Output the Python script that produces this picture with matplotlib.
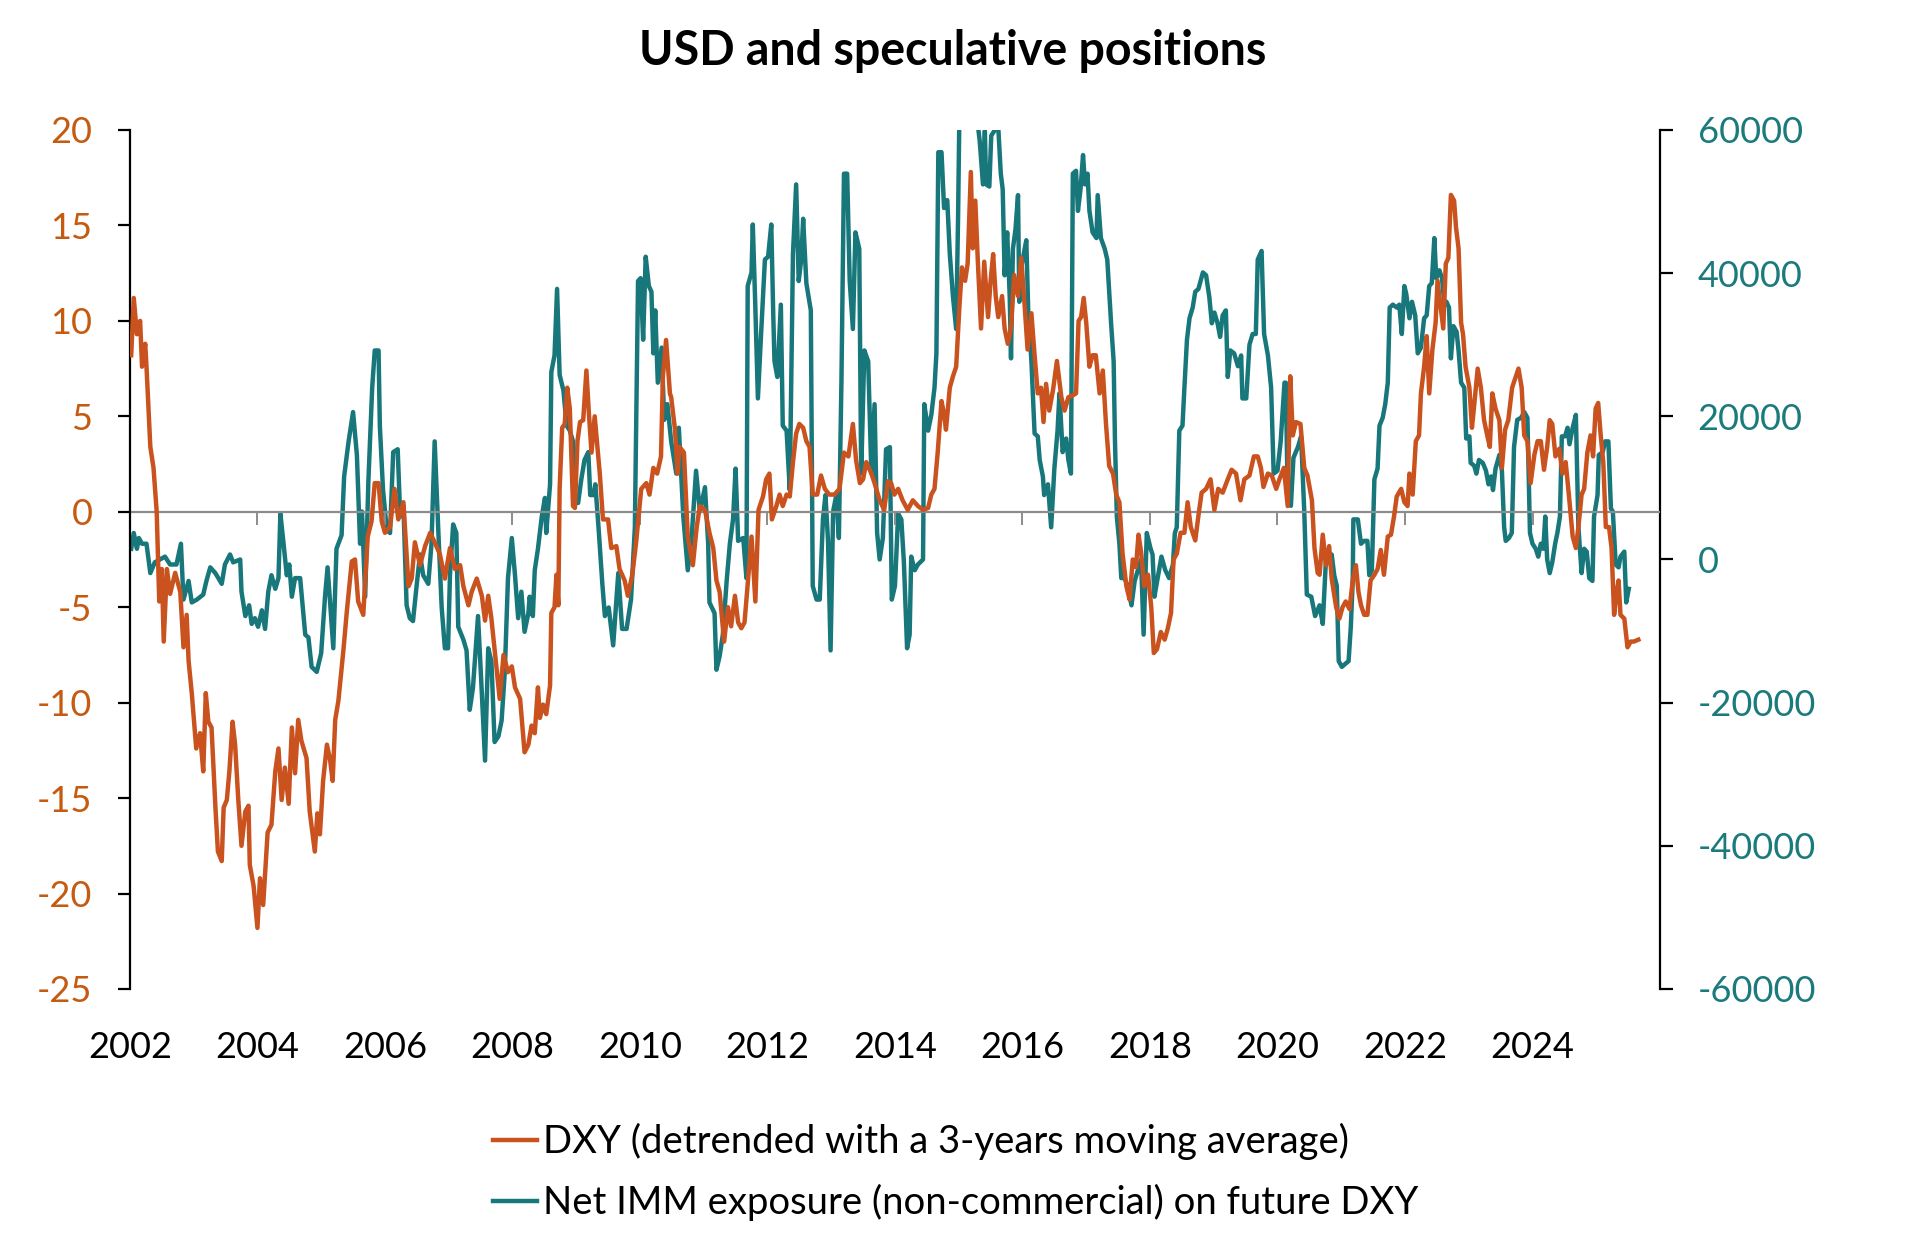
import numpy as np
import matplotlib
matplotlib.use('Agg')
import matplotlib.pyplot as plt

plt.rcParams['font.family'] = ['Lato', 'DejaVu Sans']
plt.rcParams['axes.unicode_minus'] = False

# DXY detrended (left axis) - decimal year / value
dxy_t = [2002.02, 2002.06, 2002.11, 2002.16, 2002.19, 2002.24, 2002.26, 2002.32, 2002.37, 2002.42,
         2002.46, 2002.50, 2002.53, 2002.58, 2002.63, 2002.71, 2002.79, 2002.84, 2002.89, 2002.92,
         2002.97, 2003.04, 2003.10, 2003.15, 2003.19, 2003.23, 2003.28, 2003.34, 2003.38, 2003.44,
         2003.47, 2003.52, 2003.56, 2003.61, 2003.65, 2003.70, 2003.75, 2003.81, 2003.86, 2003.88,
         2003.94, 2004.00, 2004.04, 2004.09, 2004.16, 2004.22, 2004.28, 2004.33, 2004.38, 2004.43,
         2004.49, 2004.54, 2004.59, 2004.64, 2004.69, 2004.77, 2004.82, 2004.90, 2004.94, 2004.98,
         2005.03, 2005.09, 2005.14, 2005.18, 2005.22, 2005.27, 2005.35, 2005.40, 2005.48, 2005.53,
         2005.58, 2005.66, 2005.73, 2005.79, 2005.84, 2005.90, 2005.95, 2006.00, 2006.08, 2006.15,
         2006.21, 2006.29, 2006.37, 2006.42, 2006.47, 2006.55, 2006.63, 2006.71, 2006.78, 2006.86,
         2006.94, 2007.02, 2007.10, 2007.18, 2007.23, 2007.31, 2007.36, 2007.44, 2007.52, 2007.57,
         2007.62, 2007.67, 2007.75, 2007.80, 2007.86, 2007.93, 2007.99, 2008.04, 2008.12, 2008.19,
         2008.25, 2008.30, 2008.35, 2008.40, 2008.43, 2008.48, 2008.53, 2008.59, 2008.61, 2008.66,
         2008.69, 2008.72, 2008.74, 2008.78, 2008.82, 2008.86, 2008.90, 2008.95, 2008.98, 2009.02,
         2009.06, 2009.11, 2009.16, 2009.20, 2009.24, 2009.29, 2009.37, 2009.42, 2009.50, 2009.55,
         2009.63, 2009.68, 2009.76, 2009.81, 2009.88, 2009.94, 2010.02, 2010.10, 2010.15, 2010.21,
         2010.27, 2010.33, 2010.36, 2010.41, 2010.47, 2010.49, 2010.55, 2010.59, 2010.62, 2010.69,
         2010.75, 2010.83, 2010.89, 2010.94, 2011.02, 2011.09, 2011.15, 2011.20, 2011.25, 2011.32,
         2011.38, 2011.43, 2011.49, 2011.54, 2011.59, 2011.64, 2011.68, 2011.75, 2011.81, 2011.86,
         2011.93, 2011.98, 2012.03, 2012.07, 2012.14, 2012.19, 2012.24, 2012.30, 2012.35, 2012.40,
         2012.45, 2012.50, 2012.56, 2012.61, 2012.66, 2012.71, 2012.78, 2012.84, 2012.90, 2012.97,
         2013.05, 2013.13, 2013.20, 2013.27, 2013.34, 2013.39, 2013.45, 2013.50, 2013.55, 2013.63,
         2013.68, 2013.76, 2013.83, 2013.89, 2013.94, 2013.99, 2014.05, 2014.12, 2014.20, 2014.28,
         2014.36, 2014.44, 2014.52, 2014.57, 2014.62, 2014.67, 2014.73, 2014.77, 2014.80, 2014.86,
         2014.91, 2014.96, 2015.01, 2015.05, 2015.10, 2015.14, 2015.19, 2015.22, 2015.26, 2015.30,
         2015.35, 2015.40, 2015.46, 2015.50, 2015.54, 2015.58, 2015.62, 2015.68, 2015.72, 2015.77,
         2015.82, 2015.87, 2015.93, 2015.98, 2016.03, 2016.08, 2016.14, 2016.19, 2016.24, 2016.29,
         2016.33, 2016.37, 2016.42, 2016.48, 2016.54, 2016.61, 2016.66, 2016.72, 2016.79, 2016.84,
         2016.88, 2016.92, 2016.96, 2017.00, 2017.05, 2017.10, 2017.15, 2017.21, 2017.26, 2017.31,
         2017.36, 2017.42, 2017.47, 2017.52, 2017.57, 2017.63, 2017.68, 2017.73, 2017.78, 2017.82,
         2017.86, 2017.91, 2017.97, 2018.02, 2018.06, 2018.11, 2018.17, 2018.23, 2018.28, 2018.33,
         2018.37, 2018.42, 2018.48, 2018.54, 2018.59, 2018.64, 2018.71, 2018.76, 2018.81, 2018.88,
         2018.95, 2019.01, 2019.07, 2019.14, 2019.22, 2019.28, 2019.35, 2019.42, 2019.48, 2019.56,
         2019.63, 2019.69, 2019.74, 2019.78, 2019.85, 2019.91, 2019.98, 2020.03, 2020.10, 2020.16,
         2020.20, 2020.24, 2020.29, 2020.36, 2020.42, 2020.47, 2020.54, 2020.58, 2020.63, 2020.66,
         2020.71, 2020.76, 2020.81, 2020.85, 2020.92, 2020.97, 2021.02, 2021.07, 2021.13, 2021.18,
         2021.23, 2021.27, 2021.31, 2021.36, 2021.41, 2021.46, 2021.52, 2021.57, 2021.62, 2021.67,
         2021.73, 2021.78, 2021.83, 2021.87, 2021.94, 2021.99, 2022.04, 2022.07, 2022.12, 2022.17,
         2022.22, 2022.25, 2022.30, 2022.34, 2022.38, 2022.43, 2022.48, 2022.51, 2022.56, 2022.60,
         2022.64, 2022.68, 2022.72, 2022.77, 2022.80, 2022.84, 2022.88, 2022.91, 2022.95, 2023.01,
         2023.05, 2023.08, 2023.14, 2023.19, 2023.24, 2023.29, 2023.33, 2023.37, 2023.42, 2023.48,
         2023.52, 2023.57, 2023.62, 2023.68, 2023.74, 2023.78, 2023.83, 2023.87, 2023.92, 2023.97,
         2024.03, 2024.08, 2024.13, 2024.18, 2024.23, 2024.27, 2024.31, 2024.36, 2024.42, 2024.47,
         2024.52, 2024.57, 2024.63, 2024.68, 2024.72, 2024.77, 2024.81, 2024.86, 2024.91, 2024.95,
         2024.99, 2025.03, 2025.07, 2025.11, 2025.15, 2025.20, 2025.24, 2025.28, 2025.32, 2025.35,
         2025.38, 2025.44, 2025.49, 2025.54, 2025.59, 2025.66]
dxy_v = [8.2, 11.2, 9.3, 10.0, 7.6, 8.8, 7.6, 3.4, 2.3, 0.0,
         -4.7, -3.0, -6.8, -3.0, -4.3, -3.2, -4.2, -7.1, -5.4, -7.8,
         -9.5, -12.4, -11.6, -13.6, -9.5, -11.0, -11.3, -15.4, -17.8, -18.3,
         -15.5, -15.1, -13.6, -11.0, -12.2, -15.1, -17.5, -15.7, -15.4, -18.5,
         -19.6, -21.8, -19.2, -20.6, -16.8, -16.4, -13.6, -12.4, -15.1, -13.4,
         -15.3, -11.3, -13.7, -10.9, -12.0, -12.9, -15.7, -17.8, -15.8, -16.9,
         -14.1, -12.2, -13.0, -14.1, -10.9, -9.9, -7.2, -5.3, -2.6, -2.5,
         -4.7, -5.4, -1.3, -0.5, 1.5, 1.5, -0.5, -1.1, -0.8, 1.2,
         -0.4, 0.5, -3.9, -3.5, -1.6, -2.8, -1.8, -1.1, -1.6, -2.2,
         -3.5, -1.9, -3.0, -2.8, -3.9, -4.9, -4.2, -3.5, -4.4, -5.7,
         -4.4, -5.6, -8.2, -9.8, -7.5, -8.4, -8.1, -9.2, -9.8, -12.6,
         -12.2, -11.2, -11.6, -9.2, -10.8, -10.1, -10.6, -9.1, -5.3, -5.0,
         -3.3, -4.9, 1.2, 4.4, 4.6, 6.5, 5.4, 0.3, 0.2, 3.7,
         4.7, 4.8, 7.4, 5.1, 3.1, 5.0, 2.0, -0.4, -0.4, -1.9,
         -1.8, -3.0, -3.6, -4.4, -3.3, -1.6, 1.2, 1.5, 0.9, 2.3,
         2.0, 2.9, 7.1, 9.0, 6.2, 6.0, 4.3, 2.0, 3.4, 3.1,
         -1.3, -2.8, -0.8, 0.3, 0.1, -1.1, -1.9, -3.6, -4.2, -6.8,
         -5.0, -6.0, -4.4, -5.8, -6.1, -5.8, -4.2, -1.3, -4.7, 0.1,
         0.8, 1.7, 2.0, -0.4, 0.3, 0.9, 0.3, 0.9, 0.8, 2.6,
         4.1, 4.6, 4.4, 3.7, 3.4, 0.9, 0.9, 1.9, 1.2, 0.9,
         0.9, 1.2, 3.1, 2.9, 4.6, 2.7, 1.5, 1.7, 2.6, 2.0,
         1.5, 0.6, 0.1, 1.6, 1.5, 0.9, 1.2, 0.6, 0.1, 0.6,
         0.3, 0.1, 0.2, 0.9, 1.2, 3.1, 5.8, 5.1, 4.3, 6.5,
         7.1, 7.6, 10.7, 12.8, 12.1, 13.0, 17.8, 13.8, 16.3, 13.1,
         9.6, 13.1, 10.2, 12.1, 13.5, 11.3, 10.2, 11.3, 9.6, 8.8,
         9.6, 12.4, 11.3, 13.3, 11.0, 8.5, 10.4, 8.2, 6.2, 6.5,
         4.7, 6.7, 5.3, 6.4, 7.9, 6.0, 5.3, 6.0, 6.1, 6.2,
         10.0, 10.2, 11.2, 9.9, 7.6, 8.2, 8.2, 6.2, 7.4, 4.6,
         2.4, 2.0, 0.9, 0.5, -2.2, -3.9, -4.6, -2.5, -2.9, -1.2,
         -2.1, -3.9, -3.3, -5.0, -7.4, -7.2, -6.3, -6.7, -6.1, -5.3,
         -2.5, -2.2, -1.1, -1.1, 0.5, -0.8, -1.5, -0.2, 1.0, 1.2,
         1.7, 0.1, 1.2, 1.0, 1.7, 2.2, 2.0, 0.6, 1.7, 1.9,
         2.9, 2.9, 2.3, 1.3, 2.0, 1.9, 1.2, 1.7, 2.3, 0.3,
         7.1, 4.0, 4.7, 4.6, 2.3, 1.9, 0.6, -1.9, -3.2, -3.3,
         -1.2, -2.8, -1.8, -3.5, -5.0, -5.6, -5.0, -4.7, -5.1, -3.6,
         -2.8, -4.2, -4.9, -5.4, -5.4, -3.6, -3.3, -3.0, -2.0, -3.3,
         -1.3, -1.2, -0.2, 0.8, 1.2, 0.5, 0.3, 2.0, 0.9, 3.7,
         4.0, 6.2, 7.6, 9.2, 6.2, 8.5, 9.9, 12.1, 10.7, 9.6,
         13.0, 13.3, 16.6, 16.3, 14.9, 13.8, 9.9, 9.3, 7.6, 6.5,
         4.4, 5.4, 7.5, 6.5, 4.8, 4.0, 3.4, 6.2, 5.4, 4.8,
         2.3, 4.3, 4.8, 6.5, 7.1, 7.5, 6.5, 4.0, 3.7, 1.5,
         3.0, 3.7, 3.7, 2.2, 3.4, 4.8, 4.6, 2.9, 3.3, 2.0,
         2.6, 0.9, -1.3, -1.9, -0.8, 0.9, 1.2, 3.1, 4.0, 2.9,
         5.4, 5.7, 4.0, 2.6, -0.8, -0.8, -1.9, -5.4, -4.2, -3.6,
         -5.4, -5.6, -7.1, -6.8, -6.8, -6.7]

# Net IMM non-commercial positions (right axis) - decimal year / contracts
imm_t = [2002.02, 2002.06, 2002.11, 2002.14, 2002.19, 2002.26, 2002.32, 2002.39, 2002.47, 2002.55,
         2002.63, 2002.73, 2002.80, 2002.84, 2002.92, 2002.97, 2003.05, 2003.15, 2003.20, 2003.26,
         2003.34, 2003.44, 2003.49, 2003.57, 2003.62, 2003.73, 2003.75, 2003.81, 2003.87, 2003.91,
         2003.96, 2004.01, 2004.07, 2004.12, 2004.17, 2004.22, 2004.28, 2004.33, 2004.36, 2004.41,
         2004.46, 2004.50, 2004.54, 2004.59, 2004.67, 2004.75, 2004.80, 2004.85, 2004.93, 2005.00,
         2005.06, 2005.10, 2005.14, 2005.19, 2005.24, 2005.32, 2005.36, 2005.43, 2005.50, 2005.56,
         2005.61, 2005.64, 2005.69, 2005.74, 2005.80, 2005.84, 2005.90, 2005.92, 2005.97, 2006.03,
         2006.08, 2006.13, 2006.20, 2006.24, 2006.29, 2006.34, 2006.39, 2006.44, 2006.50, 2006.55,
         2006.60, 2006.68, 2006.73, 2006.78, 2006.84, 2006.89, 2006.94, 2006.99, 2007.02, 2007.07,
         2007.12, 2007.15, 2007.23, 2007.28, 2007.33, 2007.38, 2007.46, 2007.52, 2007.57, 2007.62,
         2007.67, 2007.72, 2007.78, 2007.83, 2007.88, 2007.93, 2007.99, 2008.04, 2008.09, 2008.14,
         2008.19, 2008.25, 2008.27, 2008.32, 2008.35, 2008.40, 2008.46, 2008.51, 2008.53, 2008.59,
         2008.61, 2008.66, 2008.70, 2008.74, 2008.80, 2008.85, 2008.90, 2008.95, 2008.98, 2009.03,
         2009.08, 2009.13, 2009.19, 2009.22, 2009.27, 2009.30, 2009.35, 2009.41, 2009.45, 2009.51,
         2009.58, 2009.66, 2009.72, 2009.79, 2009.86, 2009.92, 2009.97, 2010.01, 2010.05, 2010.09,
         2010.14, 2010.18, 2010.21, 2010.24, 2010.28, 2010.34, 2010.38, 2010.43, 2010.49, 2010.57,
         2010.61, 2010.68, 2010.75, 2010.81, 2010.88, 2010.94, 2011.02, 2011.07, 2011.09, 2011.17,
         2011.20, 2011.25, 2011.30, 2011.36, 2011.41, 2011.46, 2011.50, 2011.54, 2011.62, 2011.67,
         2011.69, 2011.75, 2011.77, 2011.81, 2011.85, 2011.90, 2011.96, 2012.01, 2012.06, 2012.09,
         2012.11, 2012.155, 2012.21, 2012.24, 2012.30, 2012.35, 2012.40, 2012.45, 2012.49, 2012.53,
         2012.56, 2012.61, 2012.68, 2012.71, 2012.77, 2012.82, 2012.87, 2012.91, 2012.95, 2012.99,
         2013.03, 2013.08, 2013.12, 2013.16, 2013.20, 2013.25, 2013.29, 2013.34, 2013.38, 2013.44,
         2013.47, 2013.52, 2013.58, 2013.63, 2013.68, 2013.72, 2013.76, 2013.81, 2013.86, 2013.92,
         2013.95, 2014.00, 2014.05, 2014.10, 2014.14, 2014.19, 2014.23, 2014.255, 2014.31, 2014.36,
         2014.44, 2014.46, 2014.52, 2014.57, 2014.62, 2014.65, 2014.68, 2014.73, 2014.77, 2014.82,
         2014.86, 2014.91, 2014.96, 2014.99, 2015.01, 2015.06, 2015.12, 2015.20, 2015.27, 2015.33,
         2015.38, 2015.41, 2015.43, 2015.48, 2015.51, 2015.56, 2015.61, 2015.66, 2015.69, 2015.72,
         2015.76, 2015.80, 2015.82, 2015.85, 2015.89, 2015.93, 2015.95, 2015.99, 2016.02, 2016.06,
         2016.09, 2016.14, 2016.19, 2016.24, 2016.27, 2016.32, 2016.34, 2016.40, 2016.45, 2016.50,
         2016.55, 2016.58, 2016.63, 2016.685, 2016.72, 2016.76, 2016.79, 2016.84, 2016.87, 2016.91,
         2016.95, 2016.98, 2017.02, 2017.05, 2017.10, 2017.16, 2017.18, 2017.23, 2017.29, 2017.33,
         2017.39, 2017.43, 2017.45, 2017.48, 2017.52, 2017.55, 2017.60, 2017.65, 2017.71, 2017.76,
         2017.81, 2017.86, 2017.90, 2017.95, 2018.01, 2018.04, 2018.07, 2018.12, 2018.18, 2018.24,
         2018.30, 2018.36, 2018.39, 2018.42, 2018.46, 2018.51, 2018.54, 2018.58, 2018.62, 2018.67,
         2018.71, 2018.76, 2018.83, 2018.88, 2018.93, 2018.97, 2019.01, 2019.06, 2019.10, 2019.14,
         2019.19, 2019.22, 2019.26, 2019.32, 2019.38, 2019.43, 2019.45, 2019.51, 2019.56, 2019.61,
         2019.66, 2019.69, 2019.75, 2019.79, 2019.85, 2019.90, 2019.94, 2020.00, 2020.05, 2020.11,
         2020.13, 2020.16, 2020.21, 2020.25, 2020.32, 2020.37, 2020.42, 2020.46, 2020.53, 2020.59,
         2020.66, 2020.71, 2020.76, 2020.81, 2020.85, 2020.89, 2020.93, 2020.96, 2021.01, 2021.06,
         2021.115, 2021.15, 2021.18, 2021.19, 2021.26, 2021.31, 2021.36, 2021.41, 2021.44, 2021.48,
         2021.52, 2021.57, 2021.60, 2021.65, 2021.69, 2021.73, 2021.76, 2021.81, 2021.87, 2021.91,
         2021.95, 2021.99, 2022.02, 2022.07, 2022.11, 2022.16, 2022.20, 2022.25, 2022.30, 2022.34,
         2022.38, 2022.42, 2022.46, 2022.49, 2022.54, 2022.58, 2022.615, 2022.65, 2022.69, 2022.72,
         2022.76, 2022.81, 2022.84, 2022.88, 2022.93, 2022.96, 2023.01, 2023.03, 2023.085, 2023.12,
         2023.16, 2023.22, 2023.27, 2023.31, 2023.35, 2023.38, 2023.42, 2023.48, 2023.52, 2023.555,
         2023.58, 2023.63, 2023.675, 2023.71, 2023.76, 2023.82, 2023.87, 2023.92, 2023.96, 2024.00,
         2024.05, 2024.09, 2024.13, 2024.17, 2024.20, 2024.23, 2024.27, 2024.31, 2024.355, 2024.39,
         2024.43, 2024.46, 2024.51, 2024.55, 2024.58, 2024.63, 2024.68, 2024.72, 2024.77, 2024.81,
         2024.85, 2024.89, 2024.94, 2024.965, 2025.02, 2025.04, 2025.10, 2025.14, 2025.19, 2025.23,
         2025.26, 2025.305, 2025.35, 2025.38, 2025.44, 2025.47, 2025.51]
imm_v = [1500, 3700, 1500, 3000, 2200, 2200, -1900, -400, 0, 400,
         -700, -700, 2200, -5600, -3000, -6000, -5600, -4900, -3000, -1100,
         -1900, -3400, -700, 700, -400, 0, -4500, -7900, -6400, -9000,
         -8200, -9400, -7100, -9700, -4500, -2200, -4100, -2600, 6400, 2200,
         -2200, -700, -5200, -2600, -2600, -10500, -10900, -15000, -15700, -13100,
         -5200, -1100, -6000, -12400, 1500, 3400, 11600, 16500, 20600, 14600,
         2200, 6700, -5200, 10900, 24000, 29200, 29200, 18700, 9700, 4100,
         3700, 15000, 15400, 6000, 7500, -6400, -8200, -8600, -3400, 700,
         -2200, -3400, 2200, 16500, 3400, -6700, -12400, -12400, -2200, 4900,
         3700, -9400, -11200, -12700, -21000, -18000, -7900, -18700, -28100, -12400,
         -14200, -25500, -24700, -22500, -15700, -2600, 3000, -2200, -8200, -4500,
         -10100, -7500, -5200, -7900, -1500, 1500, 6000, 8600, 3700, 10500,
         26200, 28500, 37800, 25800, 23600, 18700, 18000, 16500, 7900, 7900,
         11200, 13900, 15000, 9000, 9000, 10500, 4500, -3400, -7900, -6700,
         -12000, -1900, -9700, -9700, -5600, 4500, 38900, 39300, 30700, 42300,
         38200, 37400, 28800, 34800, 24700, 29600, 19500, 21700, 16500, 12000,
         18400, 6000, -1500, 3000, 12400, 6700, 10100, 2200, -6000, -7500,
         -15400, -13500, -10500, -3000, 2200, 5600, 12700, 2600, 3000, -2600,
         38200, 40100, 46800, 35200, 22500, 31500, 41900, 42300, 46800, 34500,
         27700, 25500, 35600, 18700, 18000, 9700, 42700, 52400, 38900, 41900,
         47600, 38600, 34800, -3700, -5600, -5600, 5600, 9000, 2600, -12700,
         6700, 9000, 3000, 24700, 53900, 53900, 38900, 32200, 45700, 43400,
         12000, 29200, 27700, 12000, 21700, 3700, 0, 3000, 15400, 15700,
         -5600, -3700, 6400, 5600, -400, -12400, -10500, 400, -1500, -700,
         0, 21700, 18000, 20200, 24000, 28800, 56900, 56900, 49100, 50200,
         42700, 36700, 32200, 47900, 62000, 68000, 64000, 70000, 63000, 58400,
         52400, 59900, 52400, 52100, 59200, 59900, 62000, 53900, 51700, 39700,
         45700, 36700, 28100, 43400, 46100, 50900, 36000, 41200, 42700, 44600,
         34800, 27700, 17600, 17200, 13900, 11600, 9000, 10500, 4500, 12700,
         18000, 23200, 15000, 16900, 13900, 12000, 53900, 54300, 48700, 51700,
         56500, 52400, 53900, 48700, 45700, 44900, 50900, 44900, 43400, 41900,
         33000, 27700, 16900, 6000, 2200, -2600, -2600, -3700, -6400, -3000,
         -1500, 0, -10500, 3700, 1500, 700, -5200, -2600, 400, -1500,
         -2600, -700, 3700, 4500, 18000, 18700, 24000, 30700, 33700, 35200,
         37400, 37800, 40100, 39700, 36700, 33000, 34500, 33000, 31100, 34100,
         34800, 25500, 29200, 28800, 27000, 28500, 22500, 22500, 30000, 31500,
         31500, 41900, 43100, 31500, 28500, 24000, 12000, 12400, 16500, 24700,
         24700, 9000, 7500, 14200, 15700, 17200, 6700, -4900, -5200, -7900,
         -6400, -9000, 0, 400, 700, -2200, -3700, -14200, -15000, -14600,
         -14200, -9400, -3000, 5600, 5600, 2200, 2600, 2600, -2200, -1500,
         11200, 12700, 18700, 19800, 21700, 24700, 35200, 35600, 35200, 35600,
         31500, 38200, 37100, 33700, 36000, 34100, 28800, 29600, 33700, 34100,
         38200, 38600, 44900, 39300, 40400, 39300, 36000, 36000, 35200, 28100,
         32600, 31800, 29200, 24700, 24000, 16900, 17200, 13500, 13100, 12000,
         13900, 13500, 12400, 10500, 11600, 9700, 12700, 14600, 12400, 4500,
         2600, 3000, 3700, 15700, 19500, 19800, 20600, 19800, 3700, 2200,
         1500, 400, 2200, 1500, 6000, 0, -1900, -400, 2200, 3700,
         6000, 17200, 17200, 18400, 16100, 18400, 20200, 4500, -1900, 1500,
         1100, -2600, -3000, 6000, 9000, 14600, 15000, 16500, 16500, 7100,
         6700, -700, -1100, 400, 1100, -6000, -4100]

x_ticks = np.arange(2002, 2025, 2)
y_left_ticks = np.arange(-25, 21, 5)
y_right_ticks = np.arange(-60000, 60001, 20000)

c_dxy = '#C9521E'
c_imm = '#18777A'
c_dxy_txt = '#C55A11'
c_imm_txt = '#1B7A7C'

fig = plt.figure(figsize=(19.05, 12.44), dpi=100)
ax = fig.add_axes([0.0682, 0.2050, 0.8032, 0.6905])
ax2 = ax.twinx()

# zero line with small tick marks every 2 years
ax.axhline(0, color='#8C8C8C', lw=1.6, zorder=1)
sec = ax.secondary_xaxis(25 / 45)
sec.set_xticks(x_ticks)
sec.tick_params(axis='x', direction='out', length=9, width=1.4, color='#8C8C8C',
                labelbottom=False, labeltop=False, bottom=True, top=False)
sec.spines['bottom'].set_visible(False)
sec.spines['top'].set_visible(False)

l1, = ax.plot(dxy_t, dxy_v, color=c_dxy, lw=3.2, solid_joinstyle='round', zorder=3,
              label='DXY (detrended with a 3-years moving average)')
l2, = ax2.plot(imm_t, imm_v, color=c_imm, lw=3.2, solid_joinstyle='round',
               label='Net IMM exposure (non-commercial) on future DXY')
ax.set_zorder(ax2.get_zorder() + 1)
ax.patch.set_visible(False)

ax.set_xlim(2002, 2026)
ax.set_ylim(-25, 20)
ax2.set_ylim(-60000, 60000)

ax.set_xticks(x_ticks)
ax.set_yticks(y_left_ticks)
ax2.set_yticks(y_right_ticks)
ax.set_xticklabels([str(y) for y in x_ticks])

for sp in ['top', 'bottom']:
    ax.spines[sp].set_visible(False)
    ax2.spines[sp].set_visible(False)
ax.spines['right'].set_visible(False)
ax2.spines['left'].set_visible(False)
ax.spines['left'].set_linewidth(1.6)
ax2.spines['right'].set_linewidth(1.6)

ax.tick_params(axis='x', length=0, pad=30, labelsize=26, labelcolor='black')
ax.tick_params(axis='y', direction='out', length=9, width=1.6, pad=18,
               labelsize=26, labelcolor=c_dxy_txt)
ax2.tick_params(axis='y', direction='out', length=9, width=1.6, pad=18,
                labelsize=26, labelcolor=c_imm_txt)

fig.suptitle('USD and speculative positions', x=0.5, y=0.977, fontsize=33.5,
             fontweight='bold')

fig.legend(handles=[l1, l2], loc='upper left', bbox_to_anchor=(0.259, 0.097),
           frameon=False, fontsize=27.5, handlelength=1.15, handletextpad=0.15,
           labelspacing=0.62, borderpad=0, borderaxespad=0)

fig.savefig('out.png', dpi=100)
